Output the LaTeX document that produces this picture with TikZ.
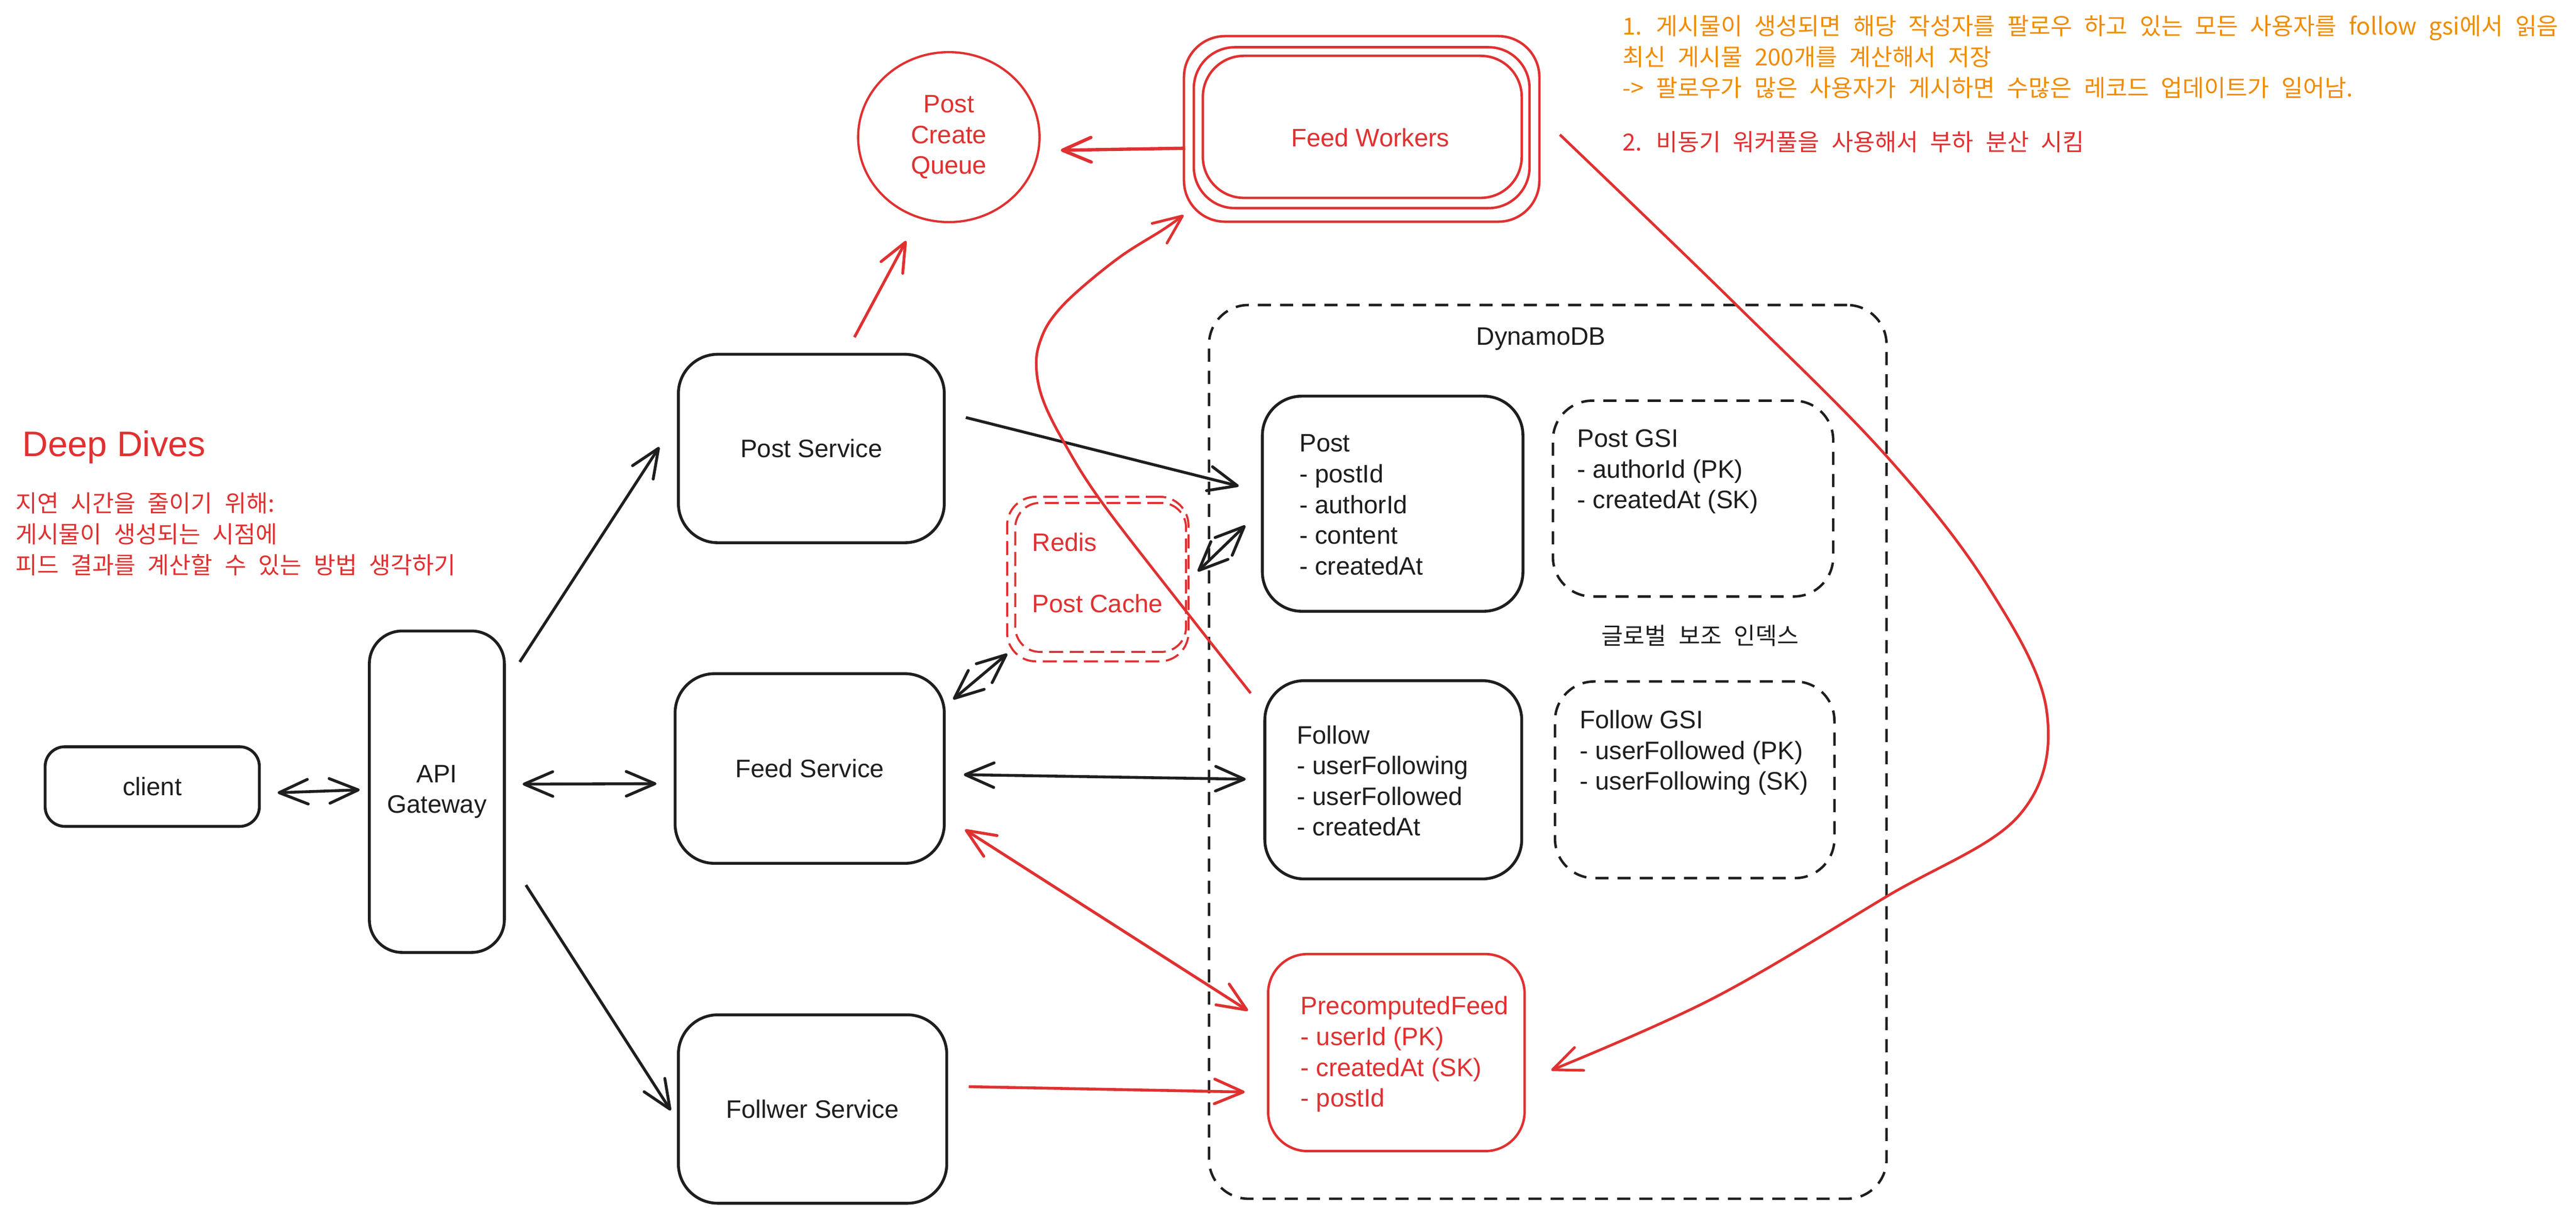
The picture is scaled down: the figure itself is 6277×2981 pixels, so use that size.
\documentclass[tikz,border=0pt]{standalone}
\usepackage{fontspec}
\setmainfont{Liberation Sans}
\newfontfamily\krfont[WordSpace=2.3]{Noto Sans CJK KR}
\usetikzlibrary{arrows.meta,calc,shapes.geometric}
\definecolor{ink}{HTML}{1E1E1E}
\definecolor{exred}{HTML}{E03131}
\definecolor{exorange}{HTML}{F08C00}
\begin{document}
\begin{tikzpicture}[x=0.1mm,y=-0.1mm,
  lat/.style={font=\fontsize{17.5pt}{21.26pt}\selectfont},
  kr/.style={font=\krfont\fontsize{16.3pt}{21.26pt}\selectfont, inner sep=0pt},
  box/.style={draw=ink, line width=0.7mm, rounded corners=9.6mm, lat, text=ink, inner sep=0pt, align=center},
  rbox/.style={draw=exred, line width=0.6mm, rounded corners=9.6mm, lat, text=exred, inner sep=0pt, align=center},
  dbox/.style={draw=ink, line width=0.6mm, rounded corners=9.6mm, dash pattern=on 3.2mm off 2.2mm, inner sep=0pt},
  rdbox/.style={draw=exred, line width=0.5mm, rounded corners=7mm, dash pattern=on 3.4mm off 1.6mm, inner sep=0pt},
  tbl/.style={lat, align=left, inner sep=0pt, anchor=west},
  arr/.style={draw=ink, line width=0.7mm, -{Straight Barb[length=7mm,width=6mm,round]}},
  darr/.style={draw=ink, line width=0.7mm, {Straight Barb[length=7mm,width=6mm,round]}-{Straight Barb[length=7mm,width=6mm,round]}},
  rarr/.style={draw=exred, line width=0.7mm, -{Straight Barb[length=7mm,width=6mm,round]}},
  rdarr/.style={draw=exred, line width=0.7mm, {Straight Barb[length=7mm,width=6mm,round]}-{Straight Barb[length=7mm,width=6mm,round]}},
  rcurve/.style={draw=exred, line width=0.65mm, -{Straight Barb[length=7mm,width=6mm,round]}},
]
\fill[white] (0,0) rectangle (6277,2981);
\useasboundingbox (0,0) rectangle (6277,2981);

% --- left notes
\node[lat, font=\fontsize{24.6pt}{30pt}\selectfont, text=exred, inner sep=0pt, anchor=base west] (deep) at (54,1112) {Deep Dives};
\node[kr, text=exred, anchor=base west] (note1) at (37,1247) {지연 시간을 줄이기 위해:};
\node[kr, text=exred, anchor=base west] (note2) at (37,1323) {게시물이 생성되는 시점에};
\node[kr, text=exred, anchor=base west] (note3) at (37,1398) {피드 결과를 계산할 수 있는 방법 생각하기};

% --- top right notes
\node[kr, text=exorange, anchor=base west] (o1) at (3953,85) {1. 게시물이 생성되면 해당 작성자를 팔로우 하고 있는 모든 사용자를 follow gsi에서 읽음};
\node[kr, text=exorange, anchor=base west] (o2) at (3953,160) {최신 게시물 200개를 계산해서 저장};
\node[kr, text=exorange, anchor=base west] (o3) at (3953,235) {-> 팔로우가 많은 사용자가 게시하면 수많은 레코드 업데이트가 일어남.};
\node[kr, text=exred, anchor=base west] (o4) at (3953,367) {2. 비동기 워커풀을 사용해서 부하 분산 시킴};

% --- services
\node[box, minimum width=52.2mm, minimum height=19.4mm, rounded corners=4.8mm] (client) at (371,1916) {client};
\node[box, minimum width=32.9mm, minimum height=78.3mm, rounded corners=8mm] (api) at (1064.5,1928.5) {API\\Gateway};
\node[box, minimum width=64.8mm, minimum height=45.9mm] (ps) at (1977,1092.5) {Post Service};
\node[box, minimum width=65.6mm, minimum height=46.2mm] (fs) at (1973,1872) {Feed Service};
\node[box, minimum width=65.4mm, minimum height=45.9mm] (fls) at (1980,2701.5) {Follwer Service};

% --- queue and workers
\node[ellipse, draw=exred, line width=0.55mm, minimum width=44.2mm, minimum height=41.4mm, inner sep=0pt, lat, text=exred, align=center] (queue) at (2312,334) {Post\\Create\\Queue};
\node[rbox, minimum width=86.6mm, minimum height=45.2mm, rounded corners=10mm] (fwA) at (3318,314) {};
\node[rbox, minimum width=81.8mm, minimum height=39.2mm, rounded corners=10mm] (fwB) at (3318,311) {};
\node[rbox, minimum width=77.7mm, minimum height=34.6mm, rounded corners=10mm] (fw) at (3319.5,309) {};
\node[lat, text=exred, inner sep=0pt] (fwlbl) at (3339,335) {Feed Workers};

% --- redis
\node[rdbox, minimum width=44.2mm, minimum height=40.1mm] (redis) at (2675,1410.5) {};
\node[rdbox, minimum width=41.6mm, minimum height=36.3mm, rounded corners=6mm] (redisin) at (2682,1406.5) {};
\node[lat, text=exred, inner sep=0pt, anchor=west] (redislbl) at (2515,1321) {Redis};
\node[lat, text=exred, inner sep=0pt, anchor=west] (cachelbl) at (2515,1470) {Post Cache};

% --- DynamoDB
\node[dbox, minimum width=165.1mm, minimum height=217.7mm] (db) at (3771.5,1831.5) {};
\node[lat, text=ink, inner sep=0pt] (dblbl) at (3755,826) {DynamoDB};
\node[box, minimum width=63.5mm, minimum height=52.4mm] (post) at (3393.5,1227) {};
\node[tbl, text=ink] (posttxt) at (3166,1229.5) {Post\\- postId\\- authorId\\- content\\- createdAt};
\node[dbox, minimum width=68.3mm, minimum height=47.7mm] (postgsi) at (4125.5,1214.5) {};
\node[tbl, text=ink] (postgsitxt) at (3843,1149) {Post GSI\\- authorId (PK)\\- createdAt (SK)};
\node[kr, text=ink] (gsilbl) at (4143,1548) {글로벌 보조 인덱스};
\node[box, minimum width=62.6mm, minimum height=48.3mm] (follow) at (3395,1899.5) {};
\node[tbl, text=ink] (followtxt) at (3160,1902) {Follow\\- userFollowing\\- userFollowed\\- createdAt};
\node[dbox, minimum width=68.1mm, minimum height=47.9mm] (followgsi) at (4129.5,1899.5) {};
\node[tbl, text=ink] (followgsitxt) at (3849,1833.5) {Follow GSI\\- userFollowed (PK)\\- userFollowing (SK)};
\node[rbox, minimum width=62.5mm, minimum height=48.0mm] (pf) at (3402.5,2564) {};
\node[tbl, text=exred] (pftxt) at (3169,2568) {PrecomputedFeed\\- userId (PK)\\- createdAt (SK)\\- postId};

% --- black connectors
\draw[darr] ($(client.east)+(41,15)$) -- ($(api.west)+(-20,-4.5)$);
\draw[darr] ($(api.east)+(41,-18.5)$) -- ($(fs.west)+(-42,37)$);
\draw[arr] ($(api.north east)+(34,79)$) -- ($(ps.west)+(-43,-3.5)$);
\draw[arr] ($(api.east)+(49,227.5)$) -- ($(fls.west)+(-15,3.5)$);
\draw[arr] ($(ps.east)+(49,-75.5)$) -- ($(post.west)+(-54,-43)$);
\draw[darr] ($(redis.east)+(20,-18.5)$) -- ($(post.west)+(-38,53)$);
\draw[darr] ($(fs.north east)+(18,66)$) -- ($(redis.south west)+(3,-21)$);
\draw[darr] ($(fs.east)+(44,15)$) -- ($(follow.west)+(-43,-1.5)$);

% --- red connectors
\draw[rdarr] ($(fs.east)+(47,149)$) -- ($(pf.west)+(-46,-102)$);
\draw[rarr] ($(fls.east)+(50,-54.5)$) -- ($(pf.west)+(-54,96)$);
\draw[rarr] ($(ps.north)+(105,-38)$) -- ($(queue.south)+(-104,43)$);
\draw[rarr, line width=0.8mm] ($(fw.west)+(-40,52)$) -- ($(queue.east)+(49,32)$);

\coordinate (c1s) at ($(follow.north west)+(-31,34)$);
\coordinate (c1e) at ($(fw.south west)+(-44,39)$);
\draw[rcurve] plot[smooth, tension=0.6] coordinates {(c1s) (2887,1485) (2686,1225) (2594,1080) (2540,970) (2525,883) (2540,817) (2573,763) (2633,703) (2733,623) (2833,560) (c1e)};

\coordinate (c2s) at ($(fw.east)+(90,19)$);
\coordinate (c2e) at ($(pf.east)+(62,43)$);
\draw[rcurve] plot[smooth, tension=0.6] coordinates {(c2s) (4222,734) (4595,1109) (4844,1428) (4987,1731) (4920,1986) (4595,2185) (4174,2432) (c2e)};
\end{tikzpicture}
\end{document}
